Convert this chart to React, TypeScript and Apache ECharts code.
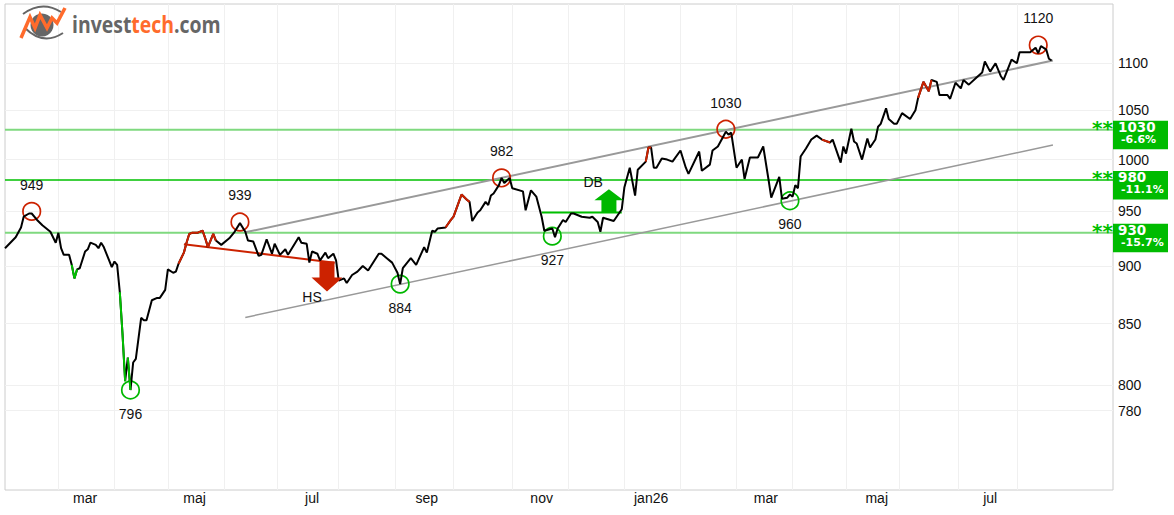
import React, { useEffect, useRef } from "react";
import * as echarts from "echarts";

const sessions = [0,2,4,6,7,9,10,12,14,17,19,20,21,22,24,25,26,27,28,30,31,32,34,35,36,37,39,40,41,42,43,44,45,46,47,48,49,51,52,53,55,57,58,60,61,63,64,65,67,68,69,70,72,74,75,76,78,79,81,84,86,88,90,91,93,95,96,98,100,101,103,105,106,110,111,113,114,115,117,118,120,121,123,124,125,127,128,130,132,134,136,140,141,143,145,147,148,149,152,154,157,158,160,161,162,165,167,168,170,171,173,174,175,177,178,180,181,182,183,185,186,187,189,190,194,195,197,199,201,202,205,206,207,209,210,212,213,216,219,220,222,223,224,228,231,232,234,236,237,240,241,242,243,244,246,248,250,253,255,256,260,261,264,265,267,270,271,272,274,276,277,279,282,284,286,287,290,291,293,294,295,296,297,298,300,302,304,306,309,310,313,314,315,317,318,319,321,323,324,326,327,328,330,331,333,334,336,337,339,341,342,344,346,347,349,350,353,354,356,358,359,361,364,366,367,369,371,373,374,377,379,380,384,386,387,388,390,391,392];
const closes = [916,921,926,935,945,948,948,942,937,931,921,930,916,910,910,901,889,897,898,913,915,921,919,916,921,917,905,899,904,901,877,842,803,822,796,818,821,855,853,853,870,872,872,879,897,894,895,902,912,921,929,930,930,932,925,917,929,923,919,925,931,939,931,923,922,909,910,924,911,920,910,915,910,926,921,920,903,913,911,905,912,907,911,905,887,889,885,892,895,900,896,911,911,907,903,894,884,898,907,901,917,912,932,931,934,935,942,945,959,966,961,959,941,949,951,959,956,965,967,975,982,977,982,972,969,951,970,964,945,932,934,926,934,942,940,948,948,945,944,945,940,931,944,941,952,973,992,965,990,998,1012,1012,992,992,1001,1000,998,1009,992,986,1008,989,995,1009,1013,1028,1025,1027,992,1000,981,1002,1002,1013,980,963,983,962,963,966,964,975,972,1003,1011,1020,1024,1020,1017,1020,997,1013,1006,1031,1018,1016,1000,1021,1012,1020,1033,1036,1052,1041,1036,1036,1047,1045,1041,1050,1063,1080,1070,1082,1080,1066,1066,1062,1079,1073,1082,1077,1085,1090,1102,1091,1100,1086,1082,1104,1100,1112,1112,1117,1111,1119,1115,1105,1103];

const redRanges = [[65,79],[165,174],[240,242],[306,309],[342,347]];
const greenRanges = [[25,27],[43,45],[46,47]];

const monthStarts = [20,41,61,82,102,125,146,168,190,211,232,253,274,295,315,335,357,379];
const monthLabelSessions = [30,71,115,158,201,242,285,326.5,369];
const monthLabels = ["mar","maj","jul","sep","nov","jan26","mar","maj","jul"];
const priceTicks = [780,800,850,900,950,1000,1050,1100];

const resistanceSessions = [10,88,186,270,387];
const resistanceCircles = [950,940,982,1030.5,1120];
const resistanceLabels = ["949","939","982","1030","1120"];
const supportSessions = [47,148,205,294];
const supportCircles = [796,884,927,960];
const supportLabels = ["796","884","927","960"];

const levelPrices = [1030,980,930];
const levelPercents = ["-6.6%","-11.1%","-15.7%"];
const upperChannel = [[90,930.5],[392.5,1103]];
const lowerChannel = [[90,855.3],[392.5,1014.5]];
const hsNeckline = [[67,919.5],[123.5,903]];
const dbNeckline = [[201,949],[231,949]];
const hsArrowTip = [120.6,877.6];
const dbArrowTip = [226.2,971];
const patternNames = [[115,872.5,"HS"],[220.3,978,"DB"]];

const LAST = 415;
const RED = "#cc2200";
const GREEN = "#00b800";
const INK = "#111";
const FONT = '"Liberation Sans", Arial, sans-serif';

const pairs = sessions.map((s, i) => [s, closes[i]]);
const segment = (r: number[]) => pairs.filter((p) => p[0] >= r[0] && p[0] <= r[1]);
const colorLine = (r: number[], color: string) => ({
  type: "line", data: segment(r), showSymbol: false, silent: true, z: 7,
  lineStyle: { color, width: 2 },
});
const plain = (data: any, color: string, width: number, z = 3) => ({
  type: "line", data, showSymbol: false, silent: true, z, lineStyle: { color, width },
});
const arrow = (tip: number[], dir: number, color: string, headHalf: number, headLen: number, shaftHalf: number, total: number) => ({
  type: "custom", data: [tip], z: 6, silent: true,
  renderItem: (_: any, api: any) => {
    const [x, y] = api.coord([api.value(0), api.value(1)]);
    const s = dir;
    return {
      type: "polygon",
      shape: {
        points: [
          [x, y],
          [x + headHalf, y + s * headLen],
          [x + shaftHalf, y + s * headLen],
          [x + shaftHalf, y + s * total],
          [x - shaftHalf, y + s * total],
          [x - shaftHalf, y + s * headLen],
          [x - headHalf, y + s * headLen],
        ],
      },
      style: { fill: color },
    };
  },
});
const pivots = (xs: number[], ys: number[], names: string[], color: string, pos: string, dist: number) => ({
  type: "scatter", z: 4, silent: true, symbol: "circle", symbolSize: 17.5,
  data: xs.map((x, i) => ({ value: [x, ys[i]], name: names[i] })),
  itemStyle: { color: "rgba(0,0,0,0)", borderColor: color, borderWidth: 1.7, opacity: 1 },
  label: { show: true, position: pos, distance: dist, formatter: "{b}", color: INK, fontSize: 14, fontFamily: FONT },
});

export default function App() {
  const ref = useRef<HTMLDivElement>(null);
  useEffect(() => {
    document.body.style.margin = "0";
    const chart = echarts.init(ref.current!, null, { renderer: "svg" });
    chart.setOption({
      animation: false,
      backgroundColor: "#fff",
      grid: { left: 5, right: 61, top: 4, bottom: 25, show: true, borderColor: "#ccc", borderWidth: 1, backgroundColor: "transparent" },
      xAxis: {
        type: "value", min: 0, max: LAST,
        axisLine: { show: false },
        axisTick: { show: false, customValues: monthStarts },
        splitLine: { show: true, lineStyle: { color: "#f0f0f0", width: 1 } },
        axisLabel: {
          customValues: monthLabelSessions,
          margin: 1, color: INK, fontSize: 14, fontFamily: FONT,
          formatter: (v: number) => monthLabels[monthLabelSessions.indexOf(v)] ?? "",
          hideOverlap: false,
        },
      },
      yAxis: {
        type: "log", logBase: 10, min: 721, max: 1166.5, position: "right",
        axisLine: { show: false },
        axisTick: { show: false, customValues: priceTicks },
        splitLine: { show: true, lineStyle: { color: "#f0f0f0", width: 1 } },
        axisLabel: {
          customValues: priceTicks, margin: 5, color: INK, fontSize: 14, fontFamily: FONT,
          formatter: (v: number) => String(Math.round(v)),
        },
      },
      series: [
        plain([[0, levelPrices[0]], [LAST, levelPrices[0]]], "#7fd97f", 2, 2),
        plain([[0, levelPrices[1]], [LAST, levelPrices[1]]], "#00c000", 1.5, 2),
        plain([[0, levelPrices[2]], [LAST, levelPrices[2]]], "#7fd97f", 2, 2),
        plain(upperChannel, "#999", 2, 3),
        plain(lowerChannel, "#999", 1.5, 3),
        plain(hsNeckline, RED, 2, 4),
        plain(dbNeckline, "#00c000", 2, 4),
        { type: "line", data: pairs, showSymbol: false, silent: true, z: 5, lineStyle: { color: "#000", width: 2 } },
        ...redRanges.map((r) => colorLine(r, RED)),
        ...greenRanges.map((r) => colorLine(r, "#00c000")),
        arrow(hsArrowTip, -1, RED, 15.5, 14, 7.5, 30),
        arrow(dbArrowTip, 1, "#00b800", 14.5, 11, 7.5, 23),
        pivots(resistanceSessions, resistanceCircles, resistanceLabels, RED, "top", 10),
        pivots(supportSessions, supportCircles, supportLabels, GREEN, "bottom", 7),
        {
          type: "scatter", z: 8, silent: true, symbolSize: 1, itemStyle: { color: "rgba(0,0,0,0)", opacity: 1 },
          data: patternNames.map((p) => ({ value: [p[0], p[1]], name: p[2] })),
          label: { show: true, position: "inside", formatter: "{b}", color: INK, fontSize: 14, fontFamily: FONT },
        },
        {
          type: "custom", z: 9, silent: true,
          data: levelPrices.map((l, i) => [LAST, l, i]),
          renderItem: (params: any, api: any) => {
            const [x, y] = api.coord([api.value(0), api.value(1)]);
            const i = api.value(2);
            const bold = '"DejaVu Sans"';
            return {
              type: "group",
              children: [
                { type: "rect", shape: { x, y: y - 9, width: 55, height: 28.5 }, style: { fill: "#00bb00" } },
                { type: "text", style: { text: "**", x: x, y: y - 2, fill: "#00c000", textAlign: "right", textVerticalAlign: "middle", font: `bold 20px ${bold}` } },
                { type: "text", style: { text: String(api.value(1)), x: x + 5, y: y - 3, fill: "#fff", textAlign: "left", textVerticalAlign: "middle", font: `bold 13.5px ${bold}` } },
                { type: "text", style: { text: levelPercents[i], x: x + 8, y: y + 10, fill: "#fff", textAlign: "left", textVerticalAlign: "middle", font: `bold 11px ${bold}` } },
              ],
            };
          },
        },
      ],
      graphic: [
        { type: "bezierCurve", silent: true, z: 20, shape: { x1: 23, y1: 14, x2: 61, y2: 12, cpx1: 42, cpy1: 0 }, style: { stroke: "#666", lineWidth: 2, fill: "none" } },
        { type: "bezierCurve", silent: true, z: 20, shape: { x1: 25, y1: 28, x2: 63, y2: 33, cpx1: 43, cpy1: 46 }, style: { stroke: "#666", lineWidth: 2, fill: "none" } },
        { type: "circle", silent: true, z: 20, shape: { cx: 42, cy: 25, r: 11.5 }, style: { fill: "#666" } },
        { type: "polyline", silent: true, z: 21, shape: { points: [[21,38],[30,17],[35,28],[40,15],[47,28],[52,18],[57,23],[65,8]] }, style: { stroke: "#ff6b2c", lineWidth: 3.5, fill: "none" } },
        {
          type: "text", silent: true, z: 21, x: 72, y: 24, scaleX: 0.845,
          style: {
            text: "{a|invest}{b|tech}{a|.com}", textVerticalAlign: "middle",
            rich: {
              a: { fill: "#666", font: 'bold 23px "Open Sans"' },
              b: { fill: "#ff6b2c", font: 'bold 23px "Open Sans"' },
            },
          },
        },
      ],
    });
    return () => chart.dispose();
  }, []);
  return <div ref={ref} style={{ width: 1174, height: 515 }} />;
}
